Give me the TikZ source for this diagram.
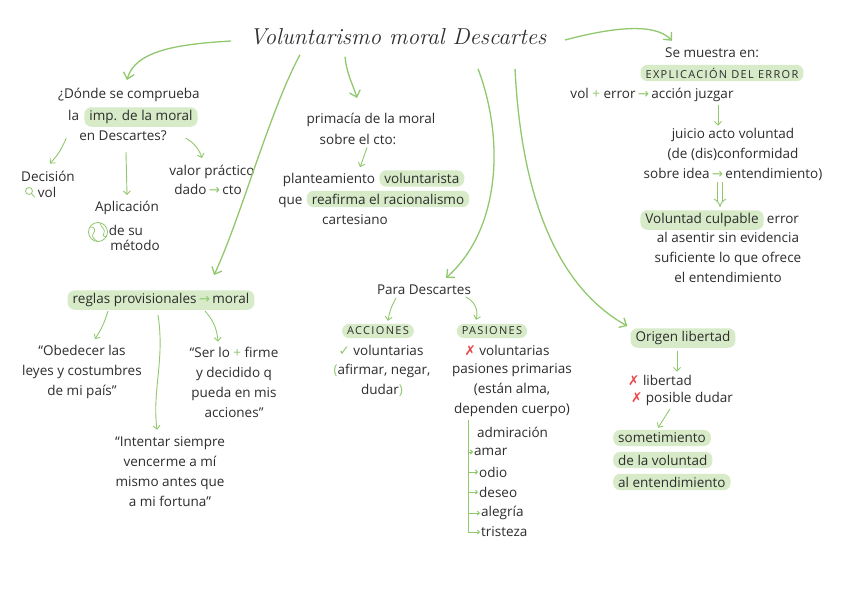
\documentclass[tikz,border=0pt]{standalone}
\usepackage{fontspec}
\newfontfamily\handFont{Open Sans}
\newfontfamily\signFont{DejaVu Sans}
\usetikzlibrary{arrows.meta,positioning}

\newcommand{\inkArrow}{{\signFont\color{arrowColour}\,→\,}}
\newcommand{\inkPlus}{{\ \color{arrowColour}+\ }}
\newcommand{\yesMark}{{\signFont\color{arrowColour}✓}}
\newcommand{\noMark}{{\signFont\color{crossColour}✗}}

\begin{document}
\begin{tikzpicture}[
		noteText/.style={font=\handFont\fontsize{13.5}{20}\selectfont, text=inkColour, align=center, inner sep=1pt},
		markText/.style={noteText, fill=markColour, rounded corners=7pt, inner xsep=5pt, inner ysep=3pt},
		capsText/.style={markText, font=\handFont\fontsize{11}{13}\selectfont\addfontfeatures{LetterSpace=12}},
		thinArrow/.style={draw=arrowColour, line width=0.9pt, -{Straight Barb[length=3.5pt,width=7pt]}},
		branchArrow/.style={draw=arrowColour, line width=1.3pt, -{Straight Barb[length=6pt,width=11pt]}}
	]
	\definecolor{inkColour}{RGB}{45, 45, 45}
	\definecolor{arrowColour}{RGB}{145, 200, 110}
	\definecolor{markColour}{RGB}{215, 235, 200}
	\definecolor{crossColour}{RGB}{235, 70, 70}

	\fill[white] (0pt, 0pt) rectangle (848pt, -597pt);
	\useasboundingbox (0pt, 0pt) rectangle (848pt, -597pt);

	% title
	\node[text=inkColour, font=\fontsize{23}{27}\selectfont\itshape] (title) at (398pt, -37pt) {Voluntarismo moral Descartes};

	% donde se comprueba
	\node[noteText] (dondeA) at (129pt, -95pt) {¿Dónde se comprueba};
	\node[markText] (impMoral) at (141pt, -117pt) {imp. de la moral};
	\node[noteText, anchor=base east] (dondeLa) at ([xshift=-4pt]impMoral.base west) {la};
	\node[noteText] (dondeC) at (123pt, -136pt) {en Descartes?};
	\node[noteText] (decision) at (48pt, -176pt) {Decisión};
	\node[noteText] (decisionVol) at (47pt, -192pt) {vol};
	\node[noteText] (aplicacion) at (127pt, -208pt) {Aplicación};
	\node[noteText] (metodoA) at (126pt, -230pt) {de su};
	\node[noteText] (metodoB) at (135pt, -245pt) {método};
	\node[noteText] (valorA) at (212pt, -172pt) {valor práctico};
	\node[noteText] (valorB) at (208pt, -189pt) {dado\inkArrow cto};

	\draw[arrowColour, line width=0.8pt] (29pt, -191pt) circle (3.5pt);
	\draw[arrowColour, line width=0.8pt, line cap=round] (31.5pt, -193.5pt) -- (34.5pt, -197pt);
	\draw[arrowColour, line width=0.8pt] (98pt, -232pt) circle (9.5pt);
	\draw[arrowColour, line width=0.7pt] (90pt, -227pt) .. controls (95pt, -226pt) and (96pt, -231pt) .. (93pt, -234pt)
		.. controls (91pt, -237pt) and (95pt, -240pt) .. (97pt, -241pt);
	\draw[arrowColour, line width=0.7pt] (100pt, -223pt) .. controls (101pt, -228pt) and (106pt, -229pt) .. (104pt, -233pt)
		.. controls (102pt, -236pt) and (105pt, -238pt) .. (107pt, -236pt);

	\draw[thinArrow] ([xshift=-12pt, yshift=4pt]dondeC.south west) to[bend left=10] ([xshift=2pt, yshift=6pt]decision.north);
	\draw[thinArrow] ([xshift=3pt, yshift=-10pt]dondeC.south) -- ([yshift=5pt]aplicacion.north);
	\draw[thinArrow] ([xshift=18pt, yshift=4pt]dondeC.south east) to[bend left=20] ([xshift=-10pt, yshift=6pt]valorA.north);

	% primacia de la moral
	\node[noteText] (primaciaA) at (371pt, -120pt) {primacía de la moral};
	\node[noteText] (primaciaB) at (358pt, -139pt) {sobre el cto:};
	\node[noteText] (planteamiento) at (329pt, -180pt) {planteamiento};
	\node[markText, anchor=base west] (voluntarista) at ([xshift=3pt]planteamiento.base east) {voluntarista};
	\node[markText] (reafirma) at (388pt, -199pt) {reafirma el racionalismo};
	\node[noteText, anchor=base east] (que) at ([xshift=-3pt]reafirma.base west) {que};
	\node[noteText] (cartesiano) at (355pt, -220pt) {cartesiano};

	\draw[thinArrow] ([xshift=9pt, yshift=-2pt]primaciaB.south) -- ([xshift=-19pt, yshift=3pt]voluntarista.north west);

	% se muestra en
	\node[noteText] (seMuestra) at (712pt, -53pt) {Se muestra en:};
	\node[capsText] (explicacion) at (722pt, -73pt) {EXPLICACIÓN DEL ERROR};
	\node[noteText] (volError) at (652pt, -95pt) {vol\inkPlus error\inkArrow acción juzgar};
	\node[noteText] (juicio) at (733pt, -154pt) {juicio acto voluntad\\(de (dis)conformidad\\sobre idea\inkArrow entendimiento)};
	\node[markText] (culpable) at (702pt, -220pt) {Voluntad culpable};
	\node[noteText, anchor=base west] (culpableError) at ([xshift=2pt]culpable.base east) {error};
	\node[noteText] (asentir) at (728pt, -257pt) {al asentir sin evidencia\\suficiente lo que ofrece\\el entendimiento};

	\draw[thinArrow] ([xshift=66pt, yshift=-2pt]volError.south) -- ([xshift=-15pt, yshift=1pt]juicio.north);
	\draw[draw=arrowColour, line width=0.9pt, double, double distance=3.5pt, -{Implies}] ([xshift=-13pt, yshift=-1pt]juicio.south) -- ([xshift=18pt, yshift=3pt]culpable.north);

	% reglas provisionales
	\node[markText] (reglas) at (161pt, -300pt) {reglas provisionales\inkArrow moral};
	\node[noteText] (obedecer) at (82pt, -372pt) {“Obedecer las\\leyes y costumbres\\de mi país”};
	\node[noteText] (ser) at (234pt, -382pt) {“Ser lo\inkPlus firme\\y decidido q\\pueda en mis\\acciones”};
	\node[noteText] (intentar) at (170pt, -472pt) {“Intentar siempre\\vencerme a mí\\mismo antes que\\a mi fortuna”};

	\draw[thinArrow] ([xshift=-53pt, yshift=-1pt]reglas.south) to[bend left=8] ([xshift=13pt, yshift=5pt]obedecer.north);
	\draw[thinArrow] ([xshift=-3pt, yshift=-5pt]reglas.south) .. controls (165pt, -360pt) and (152pt, -390pt) .. ([xshift=-13pt, yshift=6pt]intentar.north);
	\draw[thinArrow] ([xshift=44pt, yshift=-1pt]reglas.south) to[bend left=18] ([xshift=-16pt, yshift=4pt]ser.north);

	% para descartes
	\node[noteText] (paraDesc) at (424pt, -290pt) {Para Descartes};
	\node[capsText] (acciones) at (378pt, -331pt) {ACCIONES};
	\node[capsText] (pasiones) at (492pt, -331pt) {PASIONES};
	\node[noteText] (accVol) at (381pt, -350pt) {\yesMark\ voluntarias};
	\node[noteText] (accActos) at (382pt, -380pt) {{\color{arrowColour}(}afirmar, negar,\\dudar{\color{arrowColour})}};
	\node[noteText] (pasVol) at (507pt, -350pt) {\noMark\ voluntarias};
	\node[noteText] (pasPrim) at (512pt, -390pt) {pasiones primarias\\(están alma,\\dependen cuerpo)};

	\draw[thinArrow] ([xshift=-28pt, yshift=-2pt]paraDesc.south) to[bend right=10] ([xshift=10pt, yshift=3pt]acciones.north);
	\draw[thinArrow] ([xshift=42pt, yshift=-1pt]paraDesc.south) to[bend left=40] ([xshift=-16pt, yshift=4pt]pasiones.north);

	\node[noteText, anchor=west] (admiracion) at (476pt, -432pt) {admiración};
	\node[noteText, anchor=west] (amar) at (473pt, -452pt) {amar};
	\node[noteText, anchor=west] (odio) at (478pt, -472pt) {odio};
	\node[noteText, anchor=west] (deseo) at (478pt, -492pt) {deseo};
	\node[noteText, anchor=west] (alegria) at (480pt, -513pt) {alegría};
	\node[noteText, anchor=west] (tristeza) at (480pt, -532pt) {tristeza};

	\coordinate (listTop) at ([xshift=-44pt, yshift=-2pt]pasPrim.south);
	\draw[arrowColour, line width=0.9pt] (listTop) -- (listTop |- tristeza.west);
	\foreach \item in {amar, odio, deseo, alegria, tristeza}
		\draw[thinArrow, -{Straight Barb[length=2pt,width=4pt]}] (listTop |- \item.west) -- (\item.west);

	% origen libertad
	\node[markText] (origen) at (683pt, -338pt) {Origen libertad};
	\node[noteText] (noLibertad) at (660pt, -380pt) {\noMark\ libertad};
	\node[noteText] (noDudar) at (682pt, -399pt) {\noMark\ posible dudar};
	\node[markText, anchor=west] (someA) at (613pt, -438pt) {sometimiento};
	\node[markText, anchor=west] (someB) at (613pt, -460pt) {de la voluntad};
	\node[markText, anchor=west] (someC) at (613pt, -482pt) {al entendimiento};

	\draw[thinArrow] ([xshift=-6pt, yshift=-3pt]origen.south) -- ([xshift=17pt, yshift=2pt]noLibertad.north);
	\draw[thinArrow] ([xshift=-12pt, yshift=-2pt]noDudar.south) -- ([xshift=-4pt, yshift=2pt]someA.north);

	% branches from the title
	\draw[branchArrow] ([xshift=-15pt, yshift=-4pt]title.west) .. controls (180pt, -44pt) and (135pt, -50pt) .. ([xshift=-2pt, yshift=7pt]dondeA.north);
	\draw[branchArrow] ([xshift=-98pt, yshift=-6pt]title.south) .. controls (270pt, -110pt) and (240pt, -220pt) .. ([xshift=53pt, yshift=15pt]reglas.north);
	\draw[branchArrow] ([xshift=-53pt, yshift=-8pt]title.south) .. controls (347pt, -75pt) and (352pt, -82pt) .. ([xshift=-14pt, yshift=14pt]primaciaA.north);
	\draw[branchArrow] ([xshift=80pt, yshift=-20pt]title.south) .. controls (505pt, -140pt) and (500pt, -230pt) .. ([xshift=22pt, yshift=6pt]paraDesc.north);
	\draw[branchArrow] ([xshift=117pt, yshift=-20pt]title.south) .. controls (520pt, -170pt) and (545pt, -280pt) .. ([xshift=-3pt, yshift=12pt]origen.west);
	\draw[branchArrow] ([xshift=15pt, yshift=-3pt]title.east) .. controls (610pt, -28pt) and (655pt, -22pt) .. ([xshift=-40pt, yshift=6pt]seMuestra.north);
\end{tikzpicture}
\end{document}
